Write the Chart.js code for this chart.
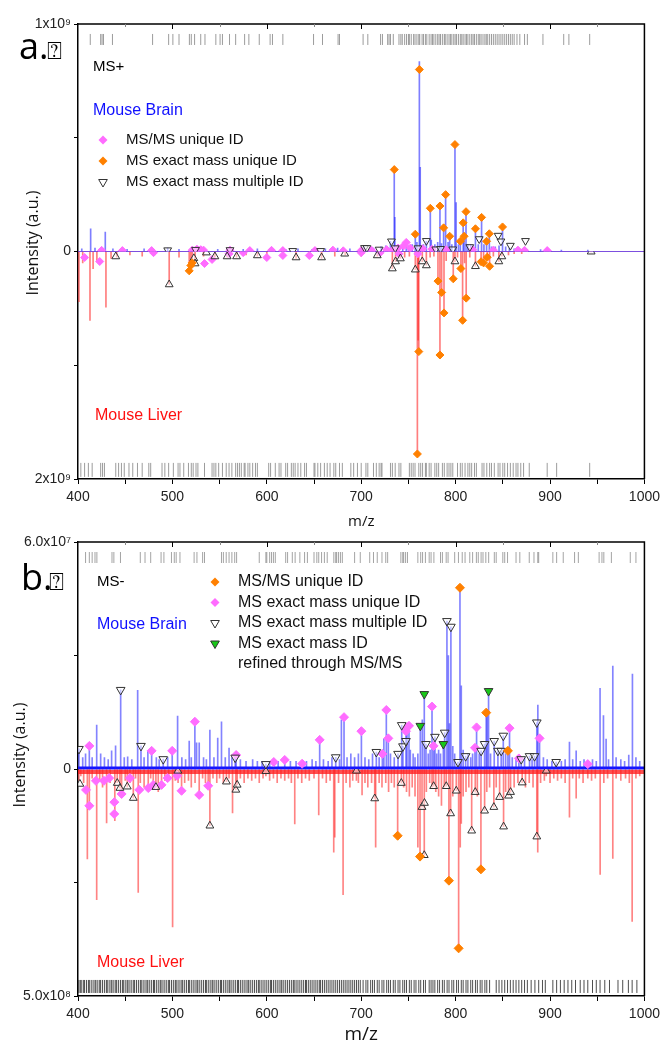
<!DOCTYPE html>
<html lang="en">
<head>
<meta charset="UTF-8">
<title>Mouse brain vs liver MS spectra</title>
<script src="https://cdn.jsdelivr.net/npm/chart.js@4.4.1/dist/chart.umd.min.js"></script>
<style>
  body { margin: 0; background: #fff; }
  #wrap { position: relative; width: 665px; height: 1048px; }
  canvas { position: absolute; left: 0; }
  #ca { top: 0; }
  #cb { top: 525px; }
</style>
</head>
<body>
<div id="wrap">
  <canvas id="ca" width="665" height="540"></canvas>
  <canvas id="cb" width="665" height="523"></canvas>
</div>
<script>
// ---------- panel a (MS+) : [m/z, intensity] ----------
const aBrainPeaks = [[404,1.2e7],[413.4,1.0e8],[418,1.5e7],[424,1.0e7],[428.9,8.5e7],[437,1.2e7],[452,1.0e7],[470,1.2e7],[495,1.5e7],[507,1.0e7],[521,1.8e7],[533,1.2e7],[548,1.0e7],[560,1.5e7],[575,1.0e7],[590,1.2e7],[604,1.0e7],[620,1.0e7],[633,1.2e7],[648,1.0e7],[662,1.2e7],[675,1.5e7],[688,1.2e7],[703,2.0e7],[713,1.5e7],[721,2.0e7],[726,2.5e7],[731,4.5e7],[735,3.6e8],[735.6,1.5e8],[739,2.0e7],[744,3.0e7],[747.7,4.0e7],[750,2.5e7],[754,3.0e7],[757.3,8.0e7],[759,4.0e7],[761.6,8.35e8],[762.5,3.7e8],[766,3.0e7],[769,4.5e7],[773.2,1.9e8],[774.2,5.0e7],[778,3.0e7],[781,4.0e7],[783.4,2.0e8],[785,3.5e7],[787.3,1.05e8],[789.4,2.5e8],[792,4.0e7],[793.7,7.0e7],[796,3.0e7],[799.3,4.7e8],[800.5,2.15e8],[803,3.0e7],[805,4.5e7],[808,1.26e8],[809,7.0e7],[811,1.75e8],[813,3.0e7],[816,3.0e7],[818,2.5e7],[821,1.0e8],[824,3.0e7],[827.5,1.5e8],[830,3.0e7],[832.8,4.5e7],[835.7,7.8e7],[838,2.0e7],[842,2.0e7],[846,2.5e7],[849.7,1.08e8],[853,2.0e7],[857,1.5e7],[862,1.2e7],[868,1.0e7],[875,1.0e7],[890,8e6],[912,6e6],[940,6e6]];
const aBrainOrange = [[735,3.6e8],[757.3,7.6e7],[761.6,8.0e8],[773.2,1.9e8],[783.4,2.0e8],[787.3,1.04e8],[789.4,2.5e8],[793.7,6.7e7],[799.3,4.7e8],[805,4.5e7],[808,1.26e8],[809,6.7e7],[811,1.75e8],[821,1.0e8],[827.5,1.5e8],[832.8,4.5e7],[835.7,7.8e7],[849.7,1.08e8]];
const aBrainPink = [[425,5e6],[447,4e6],[478,4e6],[521,6e6],[526,1.0e7],[530,8e6],[533,6e6],[561,6e6],[582,4e6],[605,5e6],[617,4e6],[651,4e6],[670,6e6],[681,3e6],[700,4e6],[711,5e6],[727,8e6],[733,6e6],[739,1.5e7],[745,2.5e7],[747.7,4.0e7],[752,1.5e7],[765,1.2e7],[775,1.0e7],[790,8e6],[818,8e6],[840,6e6],[866,6e6],[873,5e6],[897,4e6]];
const aBrainTri = [[495,6e6],[524.5,8e6],[561,7e6],[627.5,3e6],[657,3e6],[703.5,1.6e7],[706,1.6e7],[719,9e6],[732,4.5e7],[736,1.5e7],[760,1.5e7],[769,4.7e7],[779,1.0e7],[784,1.2e7],[797,1.0e7],[815,2.0e7],[825,5.5e7],[845,7.0e7],[848,4.5e7],[858,2.6e7],[874,4.7e7]];

const aLiverPeaks = [[401,4.4e8],[405,1.0e8],[412.7,6.05e8],[416,1.5e8],[420,8e7],[429.6,4.9e8],[435,6e7],[441,5e7],[455,3e7],[468,4e7],[481,3e7],[496.6,2.9e8],[507,5e7],[517.8,1.7e8],[519.5,1.23e8],[521,1.0e8],[524,1.06e8],[533,4e7],[545,5e7],[558,5e7],[568,5e7],[578,3e7],[590,4e7],[600,3e7],[617,2e7],[631,6e7],[645,3e7],[658,6e7],[672,4e7],[683,3e7],[700,4e7],[717,4e7],[733,1.5e8],[736.4,9e7],[741.5,6e7],[746,5e7],[751,4e7],[757.3,1.6e8],[759.5,1.78e9],[760.3,7.8e8],[761,8.8e8],[764.7,9e7],[769,1.2e8],[773,5e7],[777,4e7],[781.3,2.6e8],[783.4,9.1e8],[785.2,3.6e8],[787.7,5.4e8],[790,8e7],[797.5,2.4e8],[799.3,9e7],[802,5e7],[805.6,1.5e8],[807.4,6.05e8],[809.5,1.0e8],[811.2,4.1e8],[815,5e7],[821,1.3e8],[827,9e7],[829.6,1.0e8],[833.5,5e7],[836,1.3e8],[840,4e7],[845.8,9e7],[849,4e7],[856,3e7],[862,2e7],[870,2e7],[943.6,2e6]];
const aLiverOrange = [[517.8,1.7e8],[519.5,1.23e8],[521,1.0e8],[759.5,1.78e9],[761,8.8e8],[781.3,2.6e8],[783.4,9.1e8],[785.2,3.6e8],[787.7,5.4e8],[797.5,2.4e8],[805.6,1.5e8],[807.4,6.05e8],[811.2,4.1e8],[827,9e7],[829.6,1.0e8],[833.5,5e7],[836,1.3e8]];
const aLiverTri = [[440,4.4e7],[496.6,2.9e8],[522.7,6e7],[524,1.06e8],[536,1e7],[545,4.4e7],[558,4.4e7],[568,4.4e7],[590,3.5e7],[631,5.3e7],[658,5.3e7],[682.5,2e7],[717,3.5e7],[733,1.5e8],[736.4,8.8e7],[741.5,6.2e7],[757.3,1.6e8],[764.7,8.8e7],[769,1.23e8],[799.3,8.8e7],[821,1.3e8],[845.8,8.8e7],[849,4.4e7],[943.6,2e6]];
const aLiverPink = [[407,5.3e7],[423,8.8e7],[480,1e7],[534,1.06e8],[542,7e7],[560,2e7],[575,1e7],[600,5.3e7],[617,3.5e7],[645,3.5e7],[700,1e7],[720,1e7],[740,2e7],[760,2e7]];

const aBrainRug = [413,424,425.5,427,436.5,479,496,500.5,507,518,520,523.5,530,534.5,546,550.5,553,560.5,567,576.5,581,592,603.5,606,617,649.5,659,675.5,677,702,707,720.5,722.5,728,729.5,731,734,740,742,743.5,746,748,750,751,753,755.5,757,759,761,762,764.5,766,768,769.5,772,774,775.5,777,779,781,782.5,784,786,788,789,791,793,794.5,796,798,799.5,801,803,805,806.5,808,810,811.5,813,815,817,818.5,820,822,824,825.5,827,829,831,832.5,834,836,838,840,842,844,846,848,850,852,854,856,858,860,862,865,868,873,876,892.5,914.5,920,942];
const aLiverRug = [403,407,411,415,424,426,428,440,443,446,449,454,458,463,468,475,477,489,492,496,501,506,508,512,517,520,522,525,527,534,542,544,546,549,553,557,560,563,567,569,571,573,576,577,580,582,585,588,590,602,604,609,613,615,620,622,626,628,630,633,636,640,642,650,651,654,657,661,664,667,671,673,677,680,689,692,696,700,705,707,713,716,719,721,722,731,733,736,740,742,751,753,755,757,761,763,765,768,769,772,774,778,780,782,786,788,791,793,795,797,802,805,807,810,813,815,817,820,822,828,830,833,836,838,841,845,847,850,852,855,858,861,864,866,869,872,878,897,907,942];

// ---------- panel b (MS-) ----------
const bBrainPeaks = [[401,5.3e6],[405,3e6],[408,4e6],[412,6.1e6],[415,3e6],[419.8,1.16e7],[424,4e6],[428,3e6],[432,2.5e6],[435.6,4.8e6],[439.8,6.1e6],[445.2,2.09e7],[449,3e6],[452.6,3.2e6],[457,2.5e6],[463.2,2.08e7],[466.7,6.1e6],[470,3e6],[474,4.8e6],[478,4.8e6],[483,3e6],[486,2.5e6],[490.3,2.6e6],[495,3e6],[499.8,4.8e6],[505.5,1.4e7],[510,3e6],[514,2.5e6],[517.8,7.4e6],[520,3e6],[523.8,1.25e7],[525.6,6.9e6],[528.4,6.9e6],[533,3e6],[536,2.5e6],[539.7,1.03e7],[544,3e6],[548,8.2e6],[552,1.25e7],[556,3e6],[560,5.5e6],[563,3e6],[566.5,3e6],[567.5,3.7e6],[572,2.5e6],[578,2e6],[585,2.5e6],[590,2e6],[595,2e6],[599,1.3e6],[603,2e6],[607.4,1.85e6],[612,2e6],[619,2.4e6],[625,2e6],[631,2e6],[637.4,1.4e6],[642,2e6],[648,2.5e6],[652,2e6],[656,7.7e6],[660,2.5e6],[665,2e6],[669,3e6],[673,3.1e6],[677,2.5e6],[679,1.3e7],[681.8,1.37e7],[685,3e6],[689,4e6],[693,3e6],[697,4e6],[700.2,1.0e7],[704,3e6],[708,2.5e6],[712,4e6],[716,4.5e6],[719,3e6],[722.4,4e6],[724,8e6],[726.6,1.56e7],[728.7,8.1e6],[731,4e6],[735,3e6],[739,4e6],[742.9,1.16e7],[744.2,6e6],[747.4,1.0e7],[748.5,1.0e7],[750.6,1.14e7],[752,5e6],[755,4e6],[757,3e6],[760,4e6],[762.6,1.14e7],[764.7,1.3e7],[766.8,1.98e7],[768.6,6.6e6],[771,4e6],[773,5e6],[775,1.65e7],[776.7,6.1e6],[778.1,8.5e6],[780,4e6],[782,5e6],[784,4e6],[787,6.6e6],[788.4,9.6e6],[790.8,3.91e7],[792.3,3.0e7],[793.5,1.2e7],[795,3.76e7],[797,6e6],[799,4e6],[802.5,1.85e6],[804.6,4.79e7],[806,2.2e7],[808,5e6],[810.6,3.4e6],[813,4e6],[816,3e6],[818,4e6],[820.5,5.6e6],[822.2,1.1e7],[825,4e6],[827,4.8e6],[830.7,6.6e6],[832.4,1.49e7],[833.5,1.5e7],[834.9,2.06e7],[837,4e6],[840.9,7.4e6],[844.8,4.8e6],[848.3,4.8e6],[850.5,8.8e6],[853,4e6],[855.4,4.8e6],[857.1,1.08e7],[860,3e6],[864,2.5e6],[867,2.8e6],[869.5,2.6e6],[873,3e6],[878.3,3.4e6],[881,2.5e6],[883.6,3.4e6],[886,1.23e7],[887.1,1.69e7],[888.9,8.1e6],[893,3e6],[897,2.5e6],[902,2e6],[906.5,1.85e6],[912,2e6],[916,2.5e6],[920.6,7.1e6],[924,2.5e6],[927.7,4.8e6],[932,2e6],[936,2.5e6],[940,1.3e6],[945,2.5e6],[949,2e6],[953,2.13e7],[956.6,1.41e7],[959.4,7.9e6],[962,2.5e6],[966.5,2.72e7],[970,3e6],[975,2.5e6],[979,2e6],[983.4,3.7e6],[987.3,2.51e7],[991,3e6],[995,2e6]];
const bBrainOrange = [[804.6,4.79e7],[832.4,1.49e7],[855.4,4.8e6]];
const bBrainPink = [[412,6.1e6],[478,4.8e6],[499.8,4.8e6],[523.8,1.25e7],[567.5,3.7e6],[607.4,1.85e6],[619,2.4e6],[637.4,1.4e6],[656,7.7e6],[681.8,1.37e7],[700.2,1.0e7],[722.4,4e6],[726.6,1.56e7],[728.7,8.1e6],[747.4,1.0e7],[748.5,1.1e7],[750.6,1.14e7],[775,1.65e7],[776.7,6.1e6],[820.5,5.6e6],[822.2,1.1e7],[857.1,1.08e7],[867,2.8e6],[888.9,8.1e6],[940,1.3e6]];
const bBrainTri = [[401,5.3e6],[445.2,2.09e7],[466.7,6.1e6],[490.3,2.6e6],[566.5,3e6],[599,1.3e6],[673,3.1e6],[716,4.5e6],[739,4e6],[742.9,1.16e7],[744.2,6e6],[747.4,7.4e6],[768.6,6.6e6],[778.1,8.5e6],[788.4,9.6e6],[790.8,3.91e7],[795,3.76e7],[802.5,1.85e6],[810.6,3.4e6],[827,4.8e6],[830.7,6.6e6],[840.9,7.4e6],[844.8,4.8e6],[848.3,4.8e6],[850.5,8.8e6],[869.5,2.6e6],[878.3,3.4e6],[883.6,3.4e6],[886,1.23e7],[906.5,1.85e6]];
const bBrainGreen = [[762.6,1.14e7],[766.8,1.98e7],[787,6.6e6],[834.9,2.06e7]];

const bLiverPeaks = [[401,2.5e7],[403,1.5e7],[406,3e7],[409.9,1.98e8],[412,8.1e7],[415,2e7],[419.8,2.88e8],[423,2.5e7],[426,4e7],[430.3,1.19e8],[434,3e7],[439,1.14e8],[441.6,3e7],[444.4,4.2e7],[446.2,5.5e7],[450,2.5e7],[452.2,4e7],[455,3e7],[458.6,6.4e7],[461,2e7],[463.8,2.72e8],[466,3e7],[470,4e7],[474.4,4.2e7],[477,2e7],[479.7,3.5e7],[482.5,4e7],[485,5e7],[488.5,3.5e7],[492,2.5e7],[496,2e7],[500.2,3.48e8],[503,2.5e7],[506,3e7],[509.7,4.8e7],[513,3e7],[517,2.5e7],[520,4e7],[524,3e7],[528.4,5.7e7],[532,2e7],[535,3e7],[537.9,3.7e7],[539.7,1.25e8],[543,2e7],[547,3e7],[550,2e7],[554,3e7],[557.2,2.8e7],[560,2e7],[563.7,9.7e7],[567.2,4.6e7],[568.6,3.5e7],[572,2e7],[576,3e7],[580,2e7],[584,2.5e7],[588,2e7],[592,3e7],[596,2e7],[599,1.5e7],[603,2.5e7],[607,2e7],[611,3e7],[615,2e7],[619,2.5e7],[623,2e7],[626,3e7],[629.6,1.21e8],[633,2e7],[637,3e7],[641,2e7],[645,2.5e7],[650,2e7],[655,1.01e8],[659,2e7],[663,3e7],[667,2.5e7],[670.9,1.83e8],[672,1.5e8],[676,3e7],[680.8,2.77e8],[684,3e7],[688,4e7],[691,2.5e7],[694.9,2.5e7],[697,3e7],[700.9,5.7e7],[704,3e7],[707,4e7],[711,3e7],[714.3,6.5e7],[715.3,1.72e8],[719,3e7],[722,4e7],[726,3e7],[729,5e7],[732,3e7],[735,4e7],[738.6,1.47e8],[742.5,3.1e7],[745,4e7],[748,5e7],[751,6e7],[754,4e7],[757,6e7],[760,1.72e8],[762.3,1.93e8],[764.4,8.4e7],[766.8,1.9e8],[769,5e7],[772.5,3e7],[775,4e7],[776.7,3.8e7],[779,5e7],[782,6e7],[785,8e7],[788,4e7],[790.1,3.8e7],[792.9,2.46e8],[794.7,9.8e7],[797,6e7],[800.7,4.8e7],[803.2,3.95e8],[804.9,1.72e8],[806,1.2e8],[808,6e7],[811,5e7],[814,4e7],[817,1.36e8],[820.8,5.1e7],[823,6e7],[826.8,2.21e8],[830.7,9.2e7],[833,5e7],[836,4e7],[840.5,8.4e7],[843,4e7],[846.6,6.2e7],[850.8,1.27e8],[853,5e7],[856.1,5.9e7],[858.2,5.1e7],[862,4e7],[866,3e7],[870.5,3e7],[874,4e7],[878,3e7],[882,4e7],[886,1.49e8],[887,1.83e8],[890,3e7],[894,2.5e7],[896,1.5e7],[900,3e7],[904,2e7],[908,2.5e7],[912,2e7],[916,3e7],[920.6,1.06e8],[924,2e7],[927.7,6.4e7],[931,2e7],[935,3e7],[940,2e7],[944,2.5e7],[948,2e7],[953.1,2.32e8],[957,3e7],[961,2e7],[966.5,1.97e8],[970,2e7],[975,2.5e7],[980,2e7],[984,3e7],[987,3.36e8],[991,2e7],[995,1.5e7]];
const bLiverOrange = [[738.6,1.47e8],[762.3,1.93e8],[792.9,2.46e8],[803.2,3.95e8],[826.8,2.21e8]];
const bLiverTri = [[402,3.3e7],[441.6,3.1e7],[444.4,4.2e7],[452.2,3.9e7],[458.6,6.4e7],[482.5,4e7],[505.8,4e6],[539.7,1.25e8],[557.2,2.8e7],[567.2,4.6e7],[568.6,3.5e7],[599,5e6],[694.9,4e6],[714.3,6.5e7],[742.5,3.1e7],[764.4,8.4e7],[766.8,1.9e8],[767,7.5e7],[776.7,3.8e7],[790.1,3.8e7],[794.7,9.8e7],[800.7,4.8e7],[817,1.36e8],[820.8,5.1e7],[830.7,9.2e7],[840.5,8.4e7],[846.6,6.2e7],[850.8,1.27e8],[856.1,5.9e7],[858.2,5.1e7],[870.5,3e7],[886,1.49e8],[896,4e6]];
const bLiverPink = [[408.5,4.6e7],[412,8.1e7],[419,2.6e7],[427.5,2.6e7],[433,2e7],[438.4,9.9e7],[438.5,7.3e7],[446.2,5.5e7],[455,2e7],[464.9,4.6e7],[474.4,4.2e7],[479.7,3.5e7],[488.5,3.5e7],[495,2e7],[505,1.5e7],[509.7,4.8e7],[528.4,5.7e7],[537.9,3.7e7]];

const bBrainRug = [408,412,415,418,420,436,438,445,466,471,477,488,491,499,502,504,508,523,526,532,534,552,554,557,560,563,566,568,592,599,600,603,605,607,609,620,622,627,630,635,640,643,650,653,655,658,661,664,671,673,674,676,678,680,693,699,709,713,717,722,726,728,742,744,745,747,749,760,763,765,768,772,774,777,784,786,790,792,799,803,807,810,815,818,822,824,827,829,832,835,841,843,850,852,855,864,868,878,883,887,888,903,907,914,926,930,952,955,957,965,985,991];
const bLiverRug = [401,402.5,404,406,407,409,411,412,414,416,418,419,421,423,424,426,428,430,431,433,435,436,438,440,441,443,445,447,448,450,452,453,455,457,459,460,462,464,466,467,469,471,473,474,476,478,480,481,483,485,487,488,490,492,494,496,497,499,501,503,504,506,508,510,511,513,515,517,518,520,522,524,526,527,529,531,533,535,536,538,540,542,543,545,547,549,551,552,554,556,558,560,561,563,565,567,569,570,572,574,576,578,580,581,583,585,587,589,591,592,594,596,598,600,602,604,605,607,609,611,613,615,616,618,620,622,624,626,628,629,631,633,635,637,639,641,642,644,646,648,650,652,654,656,657,659,661,663,665,667,669,671,673,675,677,679,681,683,685,687,689,691,693,695,697,699,702,705,707,710,712,714,717,719,722,724,727,729,731,734,736,739,741,744,746,748,751,753,756,758,761,763,766,768,772,774,776,778,781,783,786,788,791,793,796,798,801,803,806,808,811,813,816,818,821,823,826,828,831,833,836,843,846,849,852,855,858,861,864,867,870,873,876,880,884,888,892,895,903,907,911,915,919,923,927,932,936,940,945,949,953,958,963,972,977,983,987,992];

const legendA = [
  { label: 'MS/MS unique ID', shape: 'diamond', fill: '#ff6cff' },
  { label: 'MS exact mass unique ID', shape: 'diamond', fill: '#ff8000' },
  { label: 'MS exact mass multiple ID', shape: 'triDown', fill: '#fff' }
];
const legendB = [
  { label: 'MS/MS unique ID', shape: 'diamond', fill: '#ff8000' },
  { label: 'MS exact mass unique ID', shape: 'diamond', fill: '#ff6cff' },
  { label: 'MS exact mass multiple ID', shape: 'triDown', fill: '#fff' },
  { label: 'MS exact mass ID', shape: 'triDown', fill: '#18c818' }
];

const PINK = '#ff6cff', ORANGE = '#ff8000', GREEN = '#18c818', TRI_EDGE = '#333';
const FONT = 'Liberation Sans, Arial, sans-serif';

function pts(list) { return list.map(p => ({ x: p[0], y: p[1] })); }

function spectrum(list, axis, color) {
  return { type: 'bar', data: pts(list), yAxisID: axis, backgroundColor: color,
    borderWidth: 0, barThickness: 1, grouped: false, order: 5 };
}
function marks(list, axis, style, fill, edge, radius, rot) {
  return { type: 'scatter', data: pts(list), yAxisID: axis, pointStyle: style,
    pointRadius: radius, pointRotation: rot || 0, pointBackgroundColor: fill,
    pointBorderColor: edge, pointBorderWidth: 1, order: 1 };
}
function rug(list, axis, level, half, color) {
  return { type: 'scatter', data: list.map(m => ({ x: m, y: level })), yAxisID: axis,
    pointStyle: 'line', pointRotation: 90, pointRadius: half,
    pointBorderColor: color, pointBorderWidth: 1, order: 3 };
}

function scales(o) {
  const tickFont = { family: FONT, size: 14 };
  const yCommon = (max, label, reverse, showZero) => ({
    type: 'linear', position: 'left', stack: 'mirror', stackWeight: 1,
    min: 0, max: max, reverse: reverse,
    ticks: { stepSize: max / 2, padding: 3, color: '#222', font: tickFont,
      callback: v => Math.abs(v - max) < 1 ? label : (v === 0 && showZero ? '0' : '') },
    grid: { drawOnChartArea: false, tickLength: 4, color: '#000' },
    border: { color: '#000', width: 1.5 },
    afterFit: s => { s.width = 78; }
  });
  // liver axis listed first: stacked axes are laid out bottom-up
  return {
    x: { type: 'linear', position: 'bottom', min: 400, max: 1000, offset: false,
      ticks: { stepSize: 50, autoSkip: false, maxRotation: 0, padding: 5, color: '#222', font: tickFont,
        callback: v => v % 100 === 0 ? String(v) : '' },
      grid: { drawOnChartArea: false, offset: false, tickLength: 5, color: '#000' },
      border: { color: '#000', width: 1.5 },
      title: { display: true, text: 'm/z', color: '#111', padding: 0,
        font: { family: 'Open Sans, sans-serif', size: o.xTitle } },
      afterFit: s => { s.height = o.xAxisH; } },
    yL: yCommon(o.lMax, o.lLabel, true, false),
    yB: yCommon(o.bMax, o.bLabel, false, true)
  };
}

function drawShape(ctx, shape, x, y, fill) {
  ctx.beginPath();
  if (shape === 'diamond') {
    ctx.moveTo(x, y - 4.5); ctx.lineTo(x + 4.5, y); ctx.lineTo(x, y + 4.5); ctx.lineTo(x - 4.5, y);
    ctx.closePath(); ctx.fillStyle = fill; ctx.fill();
  } else {
    const r = 5, w = r * Math.sin(Math.PI / 3);
    ctx.moveTo(x, y + r); ctx.lineTo(x - w, y - r / 2); ctx.lineTo(x + w, y - r / 2);
    ctx.closePath(); ctx.fillStyle = fill; ctx.fill();
    ctx.strokeStyle = TRI_EDGE; ctx.lineWidth = 1; ctx.stroke();
  }
}

function deco(spec) {
  return {
    id: 'deco',
    beforeDatasetsDraw(chart) {
      const ctx = chart.ctx, a = chart.chartArea;
      const y0 = chart.scales.yB.getPixelForValue(0);
      ctx.save();
      spec.baseline.forEach(b => {
        ctx.strokeStyle = b.color; ctx.lineWidth = b.width;
        ctx.beginPath(); ctx.moveTo(a.left, y0 + b.dy); ctx.lineTo(a.right, y0 + b.dy); ctx.stroke();
      });
      ctx.restore();
    },
    afterDraw(chart) {
      const ctx = chart.ctx, a = chart.chartArea, xs = chart.scales.x;
      ctx.save();
      // top and right frame with inward ticks on top
      ctx.strokeStyle = '#000'; ctx.lineWidth = 1.5;
      ctx.beginPath(); ctx.moveTo(a.left, a.top); ctx.lineTo(a.right, a.top); ctx.lineTo(a.right, a.bottom); ctx.stroke();
      ctx.lineWidth = 1;
      xs.ticks.forEach(t => {
        if (t.value <= 400 || t.value >= 1000) return;
        const px = Math.round(xs.getPixelForValue(t.value)) + 0.5;
        ctx.strokeStyle = t.value % 100 === 0 ? '#000' : '#888';
        ctx.beginPath(); ctx.moveTo(px, a.top); ctx.lineTo(px, a.top + (t.value % 100 === 0 ? 5 : 3)); ctx.stroke();
      });
      // panel letter
      ctx.fillStyle = '#000'; ctx.textBaseline = 'alphabetic'; ctx.textAlign = 'left';
      ctx.font = '36px "Open Sans", sans-serif';
      ctx.fillText(spec.letter, spec.letterX, spec.letterY);
      ctx.font = '25px "DejaVu Sans", sans-serif';
      ctx.fillText('\u2370', spec.letterX + 28, spec.letterY);
      // labels
      ctx.textBaseline = 'middle';
      ctx.font = '15px ' + FONT;
      ctx.fillText(spec.mode, spec.modeX, spec.modeY);
      ctx.font = '16px ' + FONT;
      ctx.fillStyle = '#1010ff'; ctx.fillText('Mouse Brain', spec.brainX, spec.brainY);
      ctx.fillStyle = '#ff1010'; ctx.fillText('Mouse Liver', spec.liverX, spec.liverY);
      // legend
      ctx.font = spec.legendFont + 'px ' + FONT;
      spec.legend.forEach((e, i) => {
        const y = spec.legendY + i * spec.legendGap;
        drawShape(ctx, e.shape, spec.legendMX, y, e.fill);
        ctx.fillStyle = '#111'; ctx.fillText(e.label, spec.legendTX, y);
      });
      if (spec.extraLine) {
        ctx.fillText(spec.extraLine, spec.legendTX, spec.legendY + spec.legend.length * spec.legendGap);
      }
      // y title
      ctx.translate(spec.yTitleX, spec.yTitleY); ctx.rotate(-Math.PI / 2);
      ctx.textAlign = 'center'; ctx.fillStyle = '#111';
      ctx.font = '16px "Open Sans", sans-serif';
      ctx.fillText('Intensity (a.u.)', 0, 0);
      ctx.restore();
    }
  };
}

// ---------- chart a ----------
new Chart(document.getElementById('ca'), {
  type: 'scatter',
  data: { datasets: [
    marks(aBrainOrange, 'yB', 'rectRot', ORANGE, ORANGE, 4),
    marks(aBrainTri, 'yB', 'triangle', 'rgba(255,255,255,0.5)', TRI_EDGE, 4.5, 180),
    marks(aBrainPink, 'yB', 'rectRot', PINK, PINK, 4),
    marks(aLiverOrange, 'yL', 'rectRot', ORANGE, ORANGE, 4),
    marks(aLiverTri, 'yL', 'triangle', 'rgba(255,255,255,0.5)', TRI_EDGE, 4.5, 0),
    marks(aLiverPink, 'yL', 'rectRot', PINK, PINK, 4),
    rug(aBrainRug, 'yB', 0.932e9, 5.5, 'rgba(90,90,90,0.6)'),
    rug(aLiverRug, 'yL', 1.92e9, 7, 'rgba(90,90,90,0.6)'),
    spectrum(aBrainPeaks, 'yB', 'rgba(40,40,255,0.6)'),
    spectrum(aLiverPeaks, 'yL', 'rgba(255,40,40,0.6)')
  ] },
  options: {
    responsive: false, animation: false, devicePixelRatio: 1, events: [],
    layout: { padding: { top: 24, right: 19, left: 0, bottom: 9 } },
    plugins: { legend: { display: false }, tooltip: { enabled: false } },
    scales: scales({ xTitle: 15, xAxisH: 52, bMax: 1e9, bLabel: '1x10\u2079', lMax: 2e9, lLabel: '2x10\u2079' })
  },
  plugins: [deco({
    letter: 'a.', letterX: 19, letterY: 59,
    mode: 'MS+', modeX: 93, modeY: 67,
    brainX: 93, brainY: 111, liverX: 95, liverY: 416,
    legend: legendA, legendFont: 15, legendY: 140, legendGap: 21, legendMX: 103, legendTX: 126,
    yTitleX: 33, yTitleY: 243,
    baseline: [{ color: 'rgba(110,60,220,0.9)', width: 1.2, dy: 0 }]
  })]
});

// ---------- chart b ----------
new Chart(document.getElementById('cb'), {
  type: 'scatter',
  data: { datasets: [
    marks(bBrainGreen, 'yB', 'triangle', GREEN, TRI_EDGE, 5, 180),
    marks(bBrainOrange, 'yB', 'rectRot', ORANGE, ORANGE, 4.5),
    marks(bBrainTri, 'yB', 'triangle', 'rgba(255,255,255,0.5)', TRI_EDGE, 5, 180),
    marks(bBrainPink, 'yB', 'rectRot', PINK, PINK, 4.5),
    marks(bLiverOrange, 'yL', 'rectRot', ORANGE, ORANGE, 4.5),
    marks(bLiverTri, 'yL', 'triangle', 'rgba(255,255,255,0.5)', TRI_EDGE, 4.5, 0),
    marks(bLiverPink, 'yL', 'rectRot', PINK, PINK, 4.5),
    rug(bBrainRug, 'yB', 5.59e7, 5.5, 'rgba(90,90,90,0.55)'),
    rug(bLiverRug, 'yL', 4.79e8, 6.5, 'rgba(10,10,10,0.72)'),
    spectrum(bBrainPeaks, 'yB', 'rgba(30,30,255,0.55)'),
    spectrum(bLiverPeaks, 'yL', 'rgba(255,30,30,0.55)')
  ] },
  options: {
    responsive: false, animation: false, devicePixelRatio: 1, events: [],
    layout: { padding: { top: 17, right: 20, left: 0, bottom: 2 } },
    plugins: { legend: { display: false }, tooltip: { enabled: false } },
    scales: scales({ xTitle: 19, xAxisH: 50, bMax: 6e7, bLabel: '6.0x10\u2077', lMax: 5e8, lLabel: '5.0x10\u2078' })
  },
  plugins: [deco({
    letter: 'b.', letterX: 21, letterY: 65,
    mode: 'MS-', modeX: 97, modeY: 57,
    brainX: 97, brainY: 100, liverX: 97, liverY: 438,
    legend: legendB, legendFont: 16, legendY: 57, legendGap: 20.5, legendMX: 215, legendTX: 238,
    extraLine: 'refined through MS/MS',
    yTitleX: 20, yTitleY: 230,
    baseline: [{ color: 'rgba(255,20,20,0.75)', width: 4, dy: 3 }, { color: '#1414ff', width: 3, dy: -1 }]
  })]
});
</script>
</body>
</html>
